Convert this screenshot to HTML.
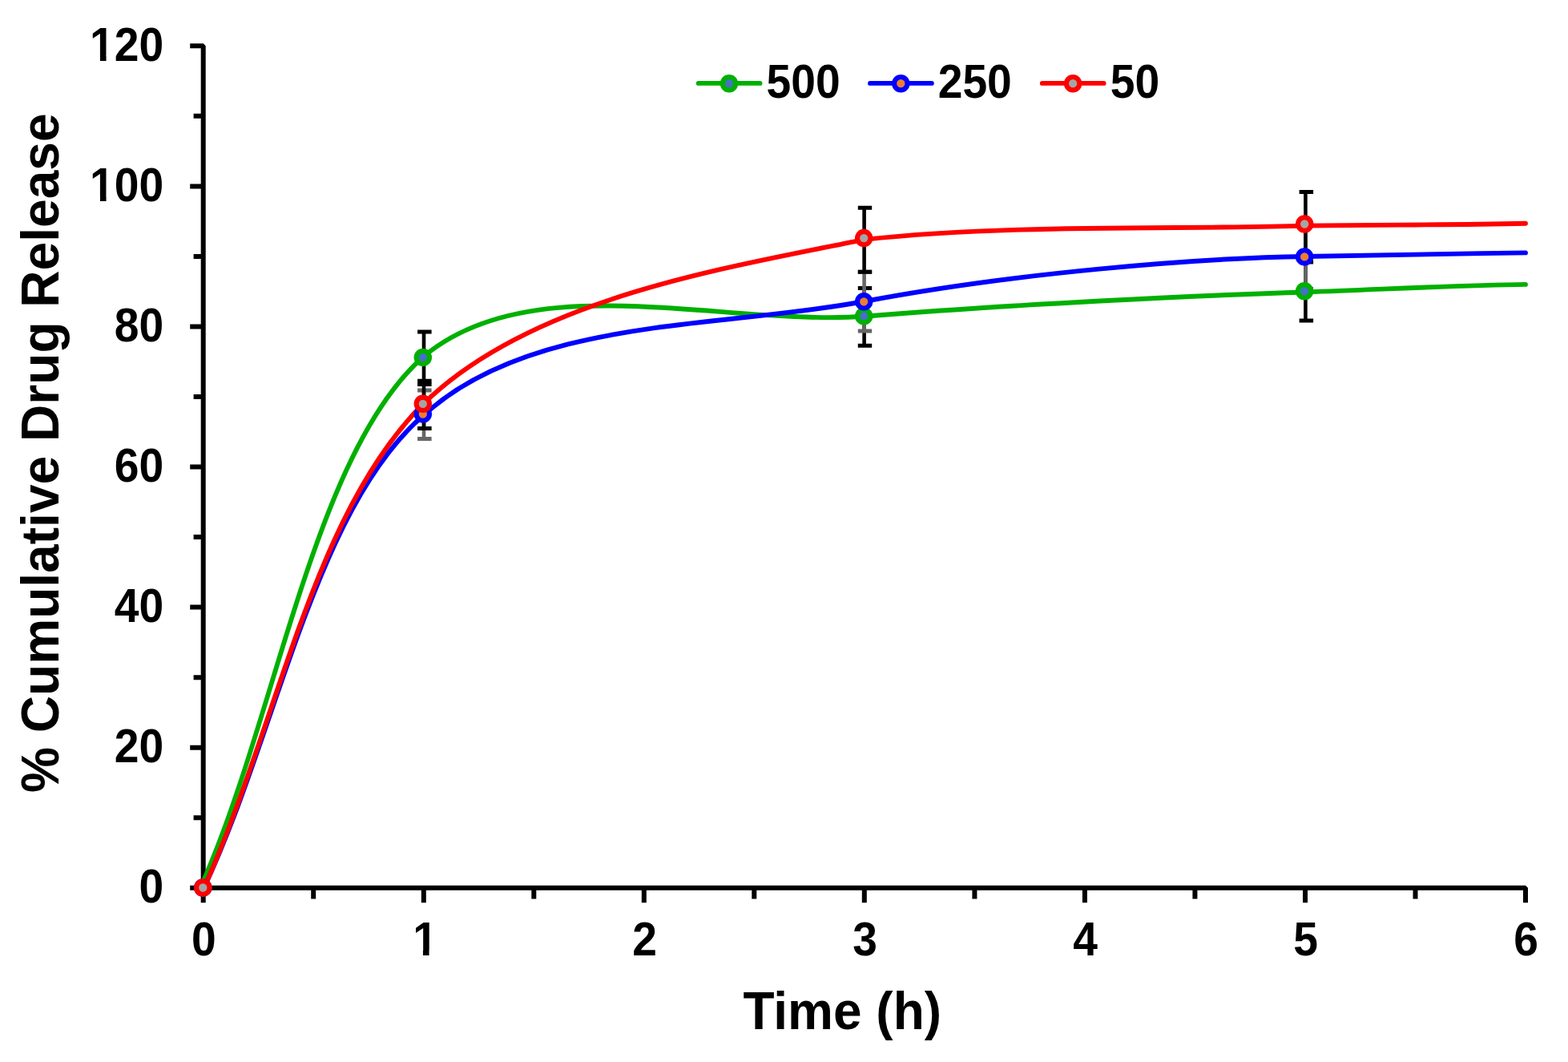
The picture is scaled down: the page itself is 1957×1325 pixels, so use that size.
<!DOCTYPE html><html><head><meta charset="utf-8"><title>Cumulative Drug Release</title><style>html,body{margin:0;padding:0;background:#fff;width:1957px;height:1325px;overflow:hidden}svg{display:block}text{font-family:"Liberation Sans",Arial,Helvetica,sans-serif;font-weight:bold;fill:#000}</style></head><body>
<svg width="1957" height="1325" viewBox="0 0 1957 1325">
<rect width="1957" height="1325" fill="#fff"/>
<defs><clipPath id="c1y" clipPathUnits="userSpaceOnUse"><rect x="-300" y="-300" width="600" height="294.1"/><rect x="-79.25" y="-6" width="7.6" height="30"/><rect x="-62.2" y="-6" width="300" height="30"/></clipPath><clipPath id="c1x" clipPathUnits="userSpaceOnUse"><rect x="-300" y="-300" width="600" height="294.1"/><rect x="-2.55" y="-6" width="7.6" height="30"/></clipPath></defs>
<path d="M237.2,57.3 H253.7 V1107.8 H1904.0 V1126.2" fill="none" stroke="#000" stroke-width="6.0" stroke-linejoin="bevel" stroke-linecap="butt"/>
<path d="M253.7,1107.8 H237.2 M253.7,1020.3 H241.6 M253.7,932.7 H237.2 M253.7,845.2 H241.6 M253.7,757.6 H237.2 M253.7,670.1 H241.6 M253.7,582.5 H237.2 M253.7,495.0 H241.6 M253.7,407.5 H237.2 M253.7,319.9 H241.6 M253.7,232.4 H237.2 M253.7,144.8 H241.6 M253.7,1107.8 V1126.2 M391.2,1107.8 V1121.6 M528.8,1107.8 V1126.2 M666.3,1107.8 V1121.6 M803.8,1107.8 V1126.2 M941.3,1107.8 V1121.6 M1078.8,1107.8 V1126.2 M1216.4,1107.8 V1121.6 M1353.9,1107.8 V1126.2 M1491.4,1107.8 V1121.6 M1629.0,1107.8 V1126.2 M1766.5,1107.8 V1121.6" fill="none" stroke="#000" stroke-width="6.0" stroke-linecap="butt"/>
<text transform="translate(204.2,1126.0) scale(1,1.060)" font-size="55.2" text-anchor="end">0</text>
<text transform="translate(204.2,950.9) scale(1,1.060)" font-size="55.2" text-anchor="end">20</text>
<text transform="translate(204.2,775.8) scale(1,1.060)" font-size="55.2" text-anchor="end">40</text>
<text transform="translate(204.2,600.8) scale(1,1.060)" font-size="55.2" text-anchor="end">60</text>
<text transform="translate(204.2,425.7) scale(1,1.060)" font-size="55.2" text-anchor="end">80</text>
<text transform="translate(204.2,250.6) scale(1,1.060)" font-size="55.2" text-anchor="end" clip-path="url(#c1y)">100</text>
<text transform="translate(204.2,75.5) scale(1,1.060)" font-size="55.2" text-anchor="end" clip-path="url(#c1y)">120</text>
<text transform="translate(254.4,1192.0) scale(1,1.060)" font-size="55.2" text-anchor="middle">0</text>
<text transform="translate(530.5,1192.0) scale(1,1.060)" font-size="55.2" text-anchor="middle" clip-path="url(#c1x)">1</text>
<text transform="translate(804.5,1192.0) scale(1,1.060)" font-size="55.2" text-anchor="middle">2</text>
<text transform="translate(1079.5,1192.0) scale(1,1.060)" font-size="55.2" text-anchor="middle">3</text>
<text transform="translate(1354.6,1192.0) scale(1,1.060)" font-size="55.2" text-anchor="middle">4</text>
<text transform="translate(1629.7,1192.0) scale(1,1.060)" font-size="55.2" text-anchor="middle">5</text>
<text transform="translate(1904.7,1192.0) scale(1,1.060)" font-size="55.2" text-anchor="middle">6</text>
<text transform="translate(1051.2,1284.4) scale(1,1.045)" font-size="64" text-anchor="middle">Time (h)</text>
<text transform="translate(72.5,565.2) rotate(-90) scale(1,1.045)" font-size="64.1" text-anchor="middle">% Cumulative Drug Release</text>
<path d="M529.0,414.1 V479.4" fill="none" stroke="#000" stroke-width="4.6"/>
<path d="M521.1,414.1 H538.6 M521.1,479.4 H538.6" fill="none" stroke="#000" stroke-width="5.0"/>
<path d="M1078.6,359.6 V431.2" fill="none" stroke="#000" stroke-width="4.6"/>
<path d="M1070.8,359.6 H1088.2 M1070.8,431.2 H1088.2" fill="none" stroke="#000" stroke-width="5.0"/>
<path d="M1629.4,326.9 V400.1" fill="none" stroke="#000" stroke-width="4.6"/>
<path d="M1621.6,326.9 H1639.1 M1621.6,400.1 H1639.1" fill="none" stroke="#000" stroke-width="5.0"/>
<path d="M529.0,487.1 V547.5" fill="none" stroke="#666666" stroke-width="4.6"/>
<path d="M521.1,487.1 H538.6 M521.1,547.5 H538.6" fill="none" stroke="#666666" stroke-width="5.0"/>
<path d="M1078.6,339.3 V413.1" fill="none" stroke="#666666" stroke-width="4.6"/>
<path d="M1070.8,339.3 H1088.2 M1070.8,413.1 H1088.2" fill="none" stroke="#666666" stroke-width="5.0"/>
<path d="M1629.4,280.4 V360.4" fill="none" stroke="#666666" stroke-width="4.6"/>
<path d="M1621.6,280.4 H1639.1 M1621.6,360.4 H1639.1" fill="none" stroke="#666666" stroke-width="5.0"/>
<path d="M529.0,475.3 V534.4" fill="none" stroke="#000" stroke-width="4.6"/>
<path d="M521.1,475.3 H538.6 M521.1,534.4 H538.6" fill="none" stroke="#000" stroke-width="5.0"/>
<path d="M1078.6,259.3 V339.2" fill="none" stroke="#000" stroke-width="4.6"/>
<path d="M1070.8,259.3 H1088.2 M1070.8,339.2 H1088.2" fill="none" stroke="#000" stroke-width="5.0"/>
<path d="M1629.4,239.4 V319.5" fill="none" stroke="#000" stroke-width="4.6"/>
<path d="M1621.6,239.4 H1639.1 M1621.6,319.5 H1639.1" fill="none" stroke="#000" stroke-width="5.0"/>
<path d="M253.7,1099.5 C345.6,890.9 392.1,564.3 528.8,444.7 C663.4,332.1 900.6,406.7 1078.8,394.8 C1260.1,379.9 1498.3,368.3 1629.0,364.5 C1758.9,359.5 1821.5,356.0 1904.0,354.9" fill="none" stroke="#00b000" stroke-width="5.9" stroke-linecap="round" stroke-linejoin="round"/>
<path d="M253.7,1109.4 C345.8,915.3 392.9,633.6 528.8,518.0 C663.0,395.2 900.7,409.9 1078.8,376.0 C1263.9,340.9 1491.6,322.0 1629.0,320.0 C1758.9,318.2 1821.5,316.2 1904.0,315.4" fill="none" stroke="#0000ff" stroke-width="5.9" stroke-linecap="round" stroke-linejoin="round"/>
<path d="M253.7,1109.8 C347.6,902.1 389.3,641.8 528.8,503.4 C663.2,372.7 900.5,335.2 1078.8,298.9 C1263.1,278.8 1486.2,286.9 1629.0,281.6 C1774.1,280.2 1812.5,280.6 1904.0,278.7" fill="none" stroke="#ff0000" stroke-width="5.9" stroke-linecap="round" stroke-linejoin="round"/>
<circle cx="253.3" cy="1107.5" r="8.2" fill="#4472c4" stroke="#00b000" stroke-width="6.1"/>
<circle cx="527.8" cy="445.9" r="8.2" fill="#4472c4" stroke="#00b000" stroke-width="6.1"/>
<circle cx="1078.2" cy="394.4" r="8.2" fill="#4472c4" stroke="#00b000" stroke-width="6.1"/>
<circle cx="1628.1" cy="363.3" r="8.2" fill="#4472c4" stroke="#00b000" stroke-width="6.1"/>
<circle cx="253.3" cy="1107.5" r="8.2" fill="#ed7d31" stroke="#0000ff" stroke-width="6.1"/>
<circle cx="527.8" cy="516.5" r="8.2" fill="#ed7d31" stroke="#0000ff" stroke-width="6.1"/>
<circle cx="1078.2" cy="376.3" r="8.2" fill="#ed7d31" stroke="#0000ff" stroke-width="6.1"/>
<circle cx="1628.1" cy="320.4" r="8.2" fill="#ed7d31" stroke="#0000ff" stroke-width="6.1"/>
<circle cx="253.3" cy="1107.5" r="8.2" fill="#a5a5a5" stroke="#ff0000" stroke-width="6.1"/>
<circle cx="527.8" cy="503.8" r="8.2" fill="#a5a5a5" stroke="#ff0000" stroke-width="6.1"/>
<circle cx="1078.2" cy="297.1" r="8.2" fill="#a5a5a5" stroke="#ff0000" stroke-width="6.1"/>
<circle cx="1628.2" cy="279.5" r="8.2" fill="#a5a5a5" stroke="#ff0000" stroke-width="6.1"/>
<path d="M871.7,103.9 H948.5" stroke="#00b000" stroke-width="5.9" stroke-linecap="round"/>
<circle cx="910.0" cy="104.2" r="8.2" fill="#4472c4" stroke="#00b000" stroke-width="6.1"/>
<text transform="translate(956.6,121.5) scale(1,1.060)" font-size="55.2">500</text>
<path d="M1086.0,103.9 H1162.8" stroke="#0000ff" stroke-width="5.9" stroke-linecap="round"/>
<circle cx="1124.3" cy="104.2" r="8.2" fill="#ed7d31" stroke="#0000ff" stroke-width="6.1"/>
<text transform="translate(1170.7,121.5) scale(1,1.060)" font-size="55.2">250</text>
<path d="M1300.8,103.9 H1377.6" stroke="#ff0000" stroke-width="5.9" stroke-linecap="round"/>
<circle cx="1339.1" cy="104.2" r="8.2" fill="#a5a5a5" stroke="#ff0000" stroke-width="6.1"/>
<text transform="translate(1385.7,121.5) scale(1,1.060)" font-size="55.2">50</text>
</svg></body></html>
